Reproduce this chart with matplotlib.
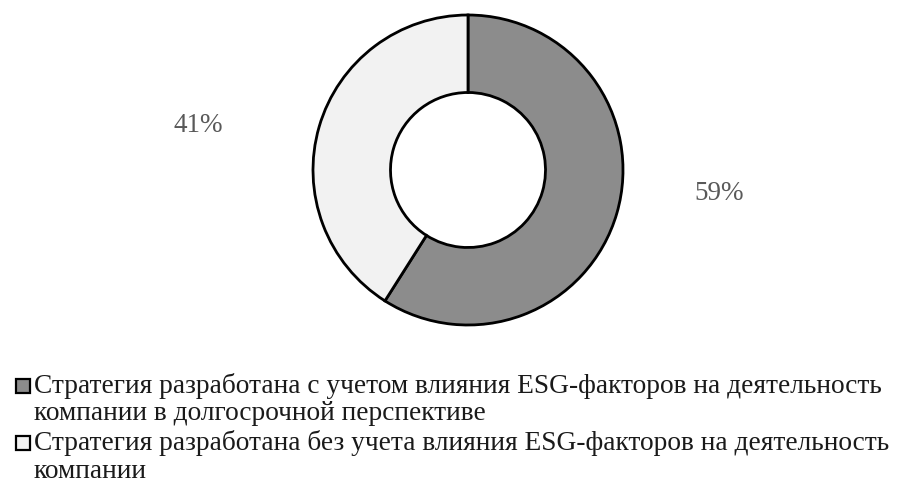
import matplotlib.pyplot as plt
from matplotlib.patches import Rectangle

# data
categories = [
    'Стратегия разработана с учетом влияния ESG-факторов на деятельность\nкомпании в долгосрочной перспективе',
    'Стратегия разработана без учета влияния ESG-факторов на деятельность\nкомпании',
]
shares = [59, 41]
pct_labels = ['59%', '41%']
colors = ['#8c8c8c', '#f2f2f2']

plt.rcParams['font.family'] = ['Liberation Serif', 'DejaVu Serif']

W, H = 898, 482
fig = plt.figure(figsize=(W / 100, H / 100), dpi=100)
ax = fig.add_axes([0, 0, 1, 1])

# 1 data unit = 155 px, donut centred at (468, 170) from top-left
r_px = 155.0
cx, cy = 468, 170
wedges, _ = ax.pie(shares, colors=colors, startangle=90, counterclock=False,
                   radius=1.0, wedgeprops=dict(width=0.5, edgecolor='black', linewidth=2))
ax.set_xlim(-cx / r_px, (W - cx) / r_px)
ax.set_ylim(-(H - cy) / r_px, cy / r_px)
ax.set_aspect('auto')
ax.axis('off')

# percentage labels
label_pos = [(1.62, -0.15), (-1.74, 0.29)]
for (x, y), txt in zip(label_pos, pct_labels):
    ax.text(x, y, txt, ha='center', va='center', fontsize=19.5, color='#595959')

# legend drawn by hand so the square sits on the first line of each entry
line_step = 27.5
entry_base = [393, 450]  # baseline of first line, px from top
for w, cat, base in zip(wedges, categories, entry_base):
    fig.patches.append(Rectangle((16 / W, 1 - base / H), 14 / W, 14 / H,
                                 transform=fig.transFigure, facecolor=w.get_facecolor(),
                                 edgecolor='black', linewidth=1.6))
    for i, line in enumerate(cat.split('\n')):
        fig.text(34 / W, 1 - (base + i * line_step) / H, line, ha='left', va='baseline',
                 fontsize=19.7, color='#1a1a1a')

plt.savefig('out.png', dpi=100)
